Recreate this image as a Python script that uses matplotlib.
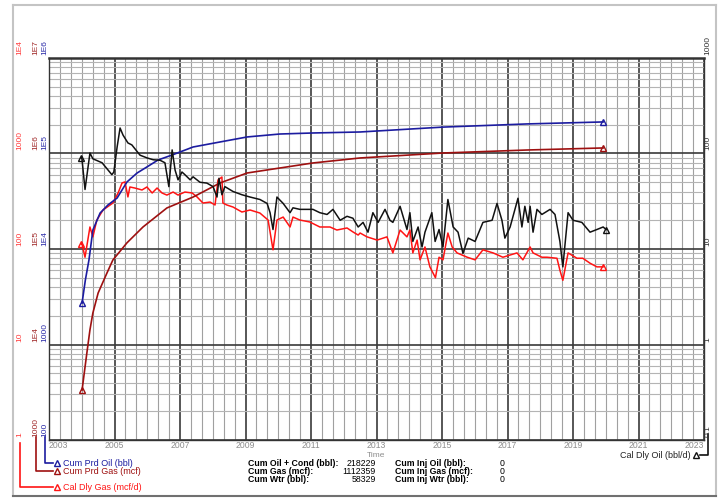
import matplotlib
matplotlib.use("Agg")
import matplotlib.pyplot as plt
import numpy as np
from matplotlib.lines import Line2D
from matplotlib.ticker import FixedLocator, LogLocator, NullFormatter

plt.rcParams['font.family'] = ['Liberation Sans', 'DejaVu Sans']

W, H = 721, 498

# Cal Dly Oil (bbl/d) - right axis
oil_t = [2003.98, 2004.00, 2004.10, 2004.25, 2004.34, 2004.62, 2004.92, 2004.98,
         2005.08, 2005.17, 2005.26, 2005.41, 2005.53, 2005.78, 2005.99,
         2006.18, 2006.39, 2006.54, 2006.66, 2006.76, 2006.85, 2006.94,
         2007.06, 2007.15, 2007.31, 2007.40, 2007.61, 2007.82,
         2008.01, 2008.13, 2008.19, 2008.28, 2008.37, 2008.62, 2008.89,
         2009.14, 2009.44, 2009.66, 2009.75, 2009.84, 2009.96,
         2010.15, 2010.36, 2010.45, 2010.66,
         2011.06, 2011.27, 2011.49, 2011.67, 2011.89,
         2012.10, 2012.28, 2012.44, 2012.59, 2012.74, 2012.89,
         2013.05, 2013.26, 2013.41, 2013.50, 2013.72, 2013.81, 2013.93,
         2014.02, 2014.11, 2014.27, 2014.39, 2014.48, 2014.69, 2014.79, 2014.91,
         2015.03, 2015.18, 2015.34, 2015.49, 2015.64, 2015.80,
         2016.01, 2016.25, 2016.53, 2016.68, 2016.83, 2016.92,
         2017.08, 2017.32, 2017.44, 2017.53, 2017.63, 2017.69, 2017.78, 2017.90,
         2018.05, 2018.30, 2018.45, 2018.60, 2018.69, 2018.85,
         2019.00, 2019.27, 2019.52, 2019.73, 2019.92, 2020.01]
oil_rate = [90, 92, 42, 101, 88, 80, 60, 64,
            117, 185, 156, 129, 123, 96, 90,
            86, 85, 80, 45, 109, 67, 53,
            64, 60, 53, 57, 50, 49,
            45, 35, 55, 37, 45, 40, 37,
            35, 33, 30, 24, 16, 35,
            30, 24, 27, 26,
            26, 24, 23, 26, 20,
            22, 21, 17, 19, 15, 24,
            19, 26, 20, 19, 28, 22, 16,
            24, 12, 17, 10.5, 15, 24, 12, 16,
            10.5, 33, 17, 15, 9, 13,
            12, 19, 20, 30, 20, 13,
            17, 34, 17, 28, 19, 28, 15, 26,
            23, 26, 23, 12, 6.5, 24,
            20, 19, 15, 16, 17, 16]

# Cal Dly Gas (mcf/d)
gas_t = [2003.98, 2004.00, 2004.10, 2004.25, 2004.34, 2004.46, 2004.65, 2004.95,
         2005.11, 2005.23, 2005.32, 2005.41, 2005.47, 2005.62, 2005.84, 2005.99,
         2006.15, 2006.30, 2006.45, 2006.60, 2006.79, 2006.94,
         2007.15, 2007.37, 2007.52, 2007.70, 2007.92,
         2008.07, 2008.16, 2008.28, 2008.31, 2008.43, 2008.62, 2008.89,
         2009.14, 2009.44, 2009.69, 2009.84, 2009.96,
         2010.15, 2010.36, 2010.45, 2010.66, 2010.96,
         2011.27, 2011.58, 2011.79,
         2012.10, 2012.28, 2012.44, 2012.50, 2012.71,
         2013.02, 2013.32, 2013.50, 2013.72, 2013.93,
         2014.02, 2014.11, 2014.24, 2014.33, 2014.48, 2014.63, 2014.80, 2014.91,
         2015.03, 2015.18, 2015.31, 2015.46, 2015.77,
         2016.01, 2016.25, 2016.56, 2016.86,
         2017.29, 2017.47, 2017.69, 2017.78,
         2018.05, 2018.21, 2018.51, 2018.60, 2018.69, 2018.85,
         2019.12, 2019.30, 2019.52, 2019.73, 2019.92]
gas_rate = [113, 116, 82, 170, 134, 201, 256, 303,
            386, 491, 504, 351, 446, 435, 415, 446,
            386, 435, 386, 367, 395, 367,
            395, 386, 351, 303, 310,
            289, 528, 567, 303, 289, 275, 244,
            256, 238, 201, 98, 201,
            216, 170, 216, 201, 192,
            170, 170, 158,
            166, 151, 140, 147, 134,
            124, 134, 91, 158, 134,
            158, 91, 124, 77, 105, 65, 50, 82,
            77, 147, 105, 91, 82,
            77, 98, 91, 82,
            91, 77, 105, 91,
            82, 82, 80, 60, 47, 91,
            80, 80, 71, 65, 65]

# Cum Prd Oil (bbl)
co_t = [2004.01, 2004.11, 2004.22, 2004.34, 2004.56, 2004.80, 2005.08, 2005.23,
        2005.38, 2005.69, 2005.99, 2006.33, 2006.76, 2007.40, 2008.22, 2009.05,
        2010.05, 2011.06, 2012.50, 2015.03, 2017.60, 2019.92]
cum_oil = [2720, 4730, 7670, 15800, 23800, 28900, 34200, 41500,
           50300, 62500, 72300, 85500, 96500, 117000, 132000, 149000,
           160000, 164000, 168000, 189000, 204000, 214000]

# Cum Prd Gas (mcf)
cg_t = [2004.01, 2004.14, 2004.25, 2004.34, 2004.50, 2004.77, 2004.95, 2005.38,
        2005.87, 2006.60, 2007.40, 2008.22, 2009.05, 2010.05, 2011.06, 2012.50,
        2015.03, 2017.60, 2019.92]
cum_gas = [3340, 7400, 14200, 21400, 34600, 56100, 76700, 116000,
           170000, 269000, 350000, 491000, 625000, 705000, 796000, 898000,
           1012000, 1088000, 1143000]

oil_labels = ['0.1', '1', '10', '100', '1000']
gas_labels = ['1', '10', '100', '1000', '1E4']
cgas_labels = ['1000', '1E4', '1E5', '1E6', '1E7']
coil_labels = ['100', '1000', '1E4', '1E5', '1E6']
years = list(range(2003, 2024, 2))

stat_names = ["Cum Oil + Cond (bbl):", "Cum Gas (mcf):", "Cum Wtr (bbl):"]
stat_values = ["218229", "1112359", "58329"]
inj_names = ["Cum Inj Oil (bbl):", "Cum Inj Gas (mcf):", "Cum Inj Wtr (bbl):"]
inj_values = ["0", "0", "0"]

C_OIL = '#111111'
C_GAS = '#ff1414'
C_CGAS = '#9e1010'
C_COIL = '#1c1ca0'


def px(x, y):
    return x / W, 1 - y / H


fig = plt.figure(figsize=(W / 100, H / 100), dpi=100)
ax = fig.add_axes([49 / W, 1 - 440 / H, 655 / W, 382 / H])
ax.set_yscale('log')
ax.set_ylim(0.1, 1000)
ax.set_xlim(2003, 2023)
ax.xaxis.set_major_locator(FixedLocator(years))
ax.xaxis.set_minor_locator(FixedLocator(np.arange(2003, 2023.01, 1 / 3)))
ax.yaxis.set_major_locator(LogLocator(base=10))
ax.yaxis.set_minor_locator(LogLocator(base=10, subs=np.arange(2, 10)))
ax.yaxis.set_major_formatter(NullFormatter())
ax.yaxis.set_minor_formatter(NullFormatter())
ax.grid(which='minor', axis='x', color='#a0a0a0', lw=0.8)
ax.grid(which='minor', axis='y', color='#b4b4b4', lw=0.8)
ax.grid(which='major', color='#3a3a3a', lw=1.2)
ax.set_axisbelow(True)
ax.tick_params(which='both', length=0)
ax.tick_params(axis='x', labelsize=6.2, labelcolor='#8c8c8c', pad=1.0)
ax.set_xticklabels([str(y) for y in years])
tl = ax.get_xticklabels()
tl[0].set_ha('left')
tl[-1].set_ha('right')
for s in ax.spines.values():
    s.set_color('#333333')
    s.set_linewidth(1.0)
ax.spines['top'].set_linewidth(1.8)

mk = dict(marker='^', mfc='none', ms=5, mew=1.0)


def twin(lo, hi):
    t = ax.twinx()
    t.set_yscale('log')
    t.set_ylim(lo, hi)
    t.axis('off')
    return t


ax_gas = twin(1, 1e4)
ax_cgas = twin(1e3, 1e7)
ax_coil = twin(1e2, 1e6)
ax_oil = twin(0.1, 1000)

ax_cgas.plot(cg_t, cum_gas, color=C_CGAS, lw=1.2, markevery=[0, len(cg_t) - 1], mec=C_CGAS, **mk)
ax_coil.plot(co_t, cum_oil, color=C_COIL, lw=1.2, markevery=[0, len(co_t) - 1], mec=C_COIL, **mk)
ax_gas.plot(gas_t, gas_rate, color=C_GAS, lw=1.1, markevery=[0, len(gas_t) - 1], mec=C_GAS, **mk)
ax_oil.plot(oil_t, oil_rate, color=C_OIL, lw=1.1, markevery=[0, len(oil_t) - 1], mec=C_OIL, **mk)

# axis labels (rotated, one column per curve)
dec = 382 / 4
for col_x, labels, c in [(19.5, gas_labels, '#ff3a3a'), (35.5, cgas_labels, '#a02828'),
                         (45, coil_labels, '#2a2aa8'), (708, oil_labels, '#333333')]:
    for i, lab in enumerate(labels):
        y = 440 - i * dec - 3
        fig.text(*px(col_x, y), lab, rotation=90, rotation_mode='anchor',
                 ha='left', va='center', fontsize=6, color=c)

fig.text(*px(376, 455), "Time", ha='center', va='center', fontsize=6, color='#8c8c8c')

# legend leaders at the bottom left
for x0, y0, yl, c, lab in [(44.5, 437, 463, C_COIL, "Cum Prd Oil (bbl)"),
                           (36, 437, 471, C_CGAS, "Cum Prd Gas (mcf)"),
                           (20, 443, 487, C_GAS, "Cal Dly Gas (mcf/d)")]:
    fig.add_artist(Line2D([x0 / W, x0 / W, 53 / W], [1 - y0 / H, 1 - yl / H, 1 - yl / H],
                          color=c, lw=1.2, transform=fig.transFigure))
    fig.add_artist(Line2D([57 / W], [1 - yl / H], color=c, transform=fig.transFigure,
                          marker='^', mfc='none', mec=c, ms=5, mew=1.0))
    fig.text(*px(63, yl), lab, ha='left', va='center', fontsize=6.5, color=c)

fig.add_artist(Line2D([700 / W, 708 / W, 708 / W], [1 - 455 / H, 1 - 455 / H, 1 - 434 / H],
                      color='#111111', lw=1.2, transform=fig.transFigure))
fig.add_artist(Line2D([696 / W], [1 - 455 / H], transform=fig.transFigure, marker='^',
                      mfc='none', mec='#111111', ms=5, mew=1.0))
fig.text(*px(691, 455), "Cal Dly Oil (bbl/d)", ha='right', va='center', fontsize=6.5, color='#222222')

# cumulative summary
for i in range(3):
    y = 463 + i * 8
    fig.text(*px(248, y), stat_names[i], ha='left', va='center', fontsize=6.3, fontweight='bold')
    fig.text(*px(376, y), stat_values[i], ha='right', va='center', fontsize=6.3)
    fig.text(*px(395, y), inj_names[i], ha='left', va='center', fontsize=6.3, fontweight='bold')
    fig.text(*px(505, y), inj_values[i], ha='right', va='center', fontsize=6.3)

# outer frame
for (xa, ya, xb, yb, c) in [(13, 5, 716, 5, '#c4c4c4'), (13, 5, 13, 496, '#c4c4c4'),
                            (716, 5, 716, 496, '#c4c4c4'), (13, 496, 716, 496, '#707070')]:
    fig.add_artist(Line2D([xa / W, xb / W], [1 - ya / H, 1 - yb / H], color=c, lw=1.5,
                          transform=fig.transFigure))

fig.savefig("out.png", dpi=100)
